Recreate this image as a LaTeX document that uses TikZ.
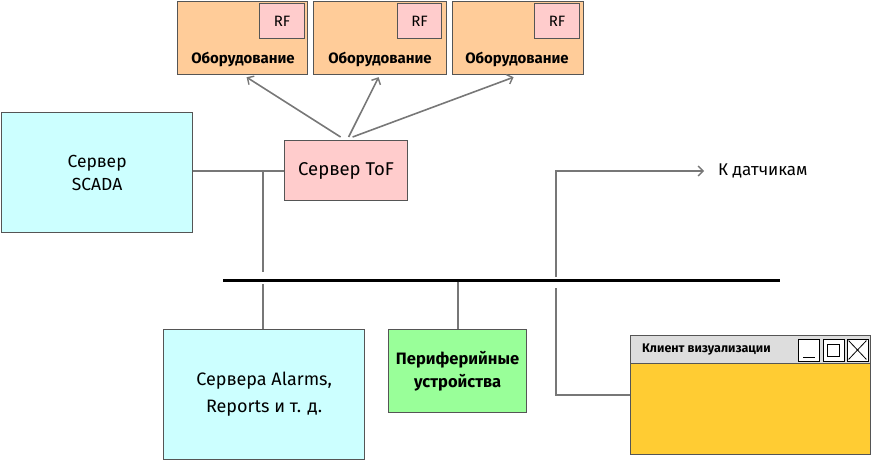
\documentclass[tikz,border=0pt]{standalone}
\usepackage{fontspec}
\setmainfont{Fira Sans}
\usetikzlibrary{arrows.meta,calc}
\definecolor{eqfill}{HTML}{FFCC99}
\definecolor{rffill}{HTML}{FFCCCC}
\definecolor{cyfill}{HTML}{CCFFFF}
\definecolor{grfill}{HTML}{99FF99}
\definecolor{yefill}{HTML}{FFCC33}
\definecolor{tbfill}{HTML}{DDDDDD}
\definecolor{edge}{HTML}{555555}
\definecolor{connc}{HTML}{777777}
\begin{document}
\begin{tikzpicture}[x=1pt,y=-1pt,
  box/.style={draw=edge, line width=1.2pt, align=center, inner sep=0pt, anchor=north west},
  conn/.style={draw=connc, line width=1.6pt},
  tip/.style={-{Straight Barb[length=5pt,width=10pt,line width=1.4pt]}},
  lbl/.style={font=\fontsize{17.5}{23}\selectfont, align=center, inner sep=0pt},
  eqlbl/.style={font=\bfseries\fontsize{15}{17}\selectfont, inner sep=0pt},
  rflbl/.style={font=\fontsize{15}{17}\selectfont},
  btn/.style={draw=black, fill=white, line width=0.8pt, minimum width=21, minimum height=22, inner sep=0pt},
  glyph/.style={draw=black, line width=0.8pt}
]
\useasboundingbox (0,0) rectangle (871,461);

% equipment boxes
\node[box, fill=eqfill, minimum width=130, minimum height=73] (eq1) at (177,1) {};
\node[box, fill=eqfill, minimum width=133, minimum height=73] (eq2) at (313,1) {};
\node[box, fill=eqfill, minimum width=131, minimum height=73] (eq3) at (452,1) {};
\node[box, fill=rffill, minimum width=45, minimum height=35, rflbl] (rf1) at (259,3) {RF};
\node[box, fill=rffill, minimum width=44, minimum height=35, rflbl] (rf2) at (397,3) {RF};
\node[box, fill=rffill, minimum width=45, minimum height=35, rflbl] (rf3) at (534,3) {RF};
\node[eqlbl] (eqt1) at (243,59) {Оборудование};
\node[eqlbl] (eqt2) at (380,59) {Оборудование};
\node[eqlbl] (eqt3) at (517,59) {Оборудование};

% main boxes
\node[box, fill=rffill, minimum width=123, minimum height=60, lbl, font=\fontsize{18.5}{23}\selectfont] (tof) at (284,140) {Сервер ToF};
\node[box, fill=cyfill, minimum width=191, minimum height=120, lbl] (scada) at (1,112) {Сервер\\SCADA};
\node[box, fill=cyfill, minimum width=201, minimum height=130, lbl, font=\fontsize{18}{27}\selectfont] (alarms) at (163,329) {Сервера Alarms,\\Reports и т. д.};
\node[box, fill=grfill, minimum width=138, minimum height=83, font=\bfseries\fontsize{16.5}{23}\selectfont] (per) at (388,329) {Периферийные\\устройства};

% bus
\node[fill=black, inner sep=0pt, minimum width=557, minimum height=3, anchor=west] (bus) at (223,280) {};

% client window
\node[box, fill=yefill, minimum width=240, minimum height=119] (client) at (630,335) {};
\node[box, fill=tbfill, minimum width=240, minimum height=28] (ctitle) at (630,335) {};
\node[anchor=west, inner sep=0pt, font=\bfseries\fontsize{12.5}{14}\selectfont] (ctext) at (642,350) {Клиент визуализации};
\node[btn] (b1) at (809,350) {};
\node[btn] (b2) at (833.5,350) {};
\node[btn] (b3) at (857.5,350) {};
\draw[glyph] ($(b1.south west)+(5,-4)$) -- ($(b1.south east)+(-5,-4)$);
\draw[glyph] ($(b2.center)+(-6,-6)$) rectangle ($(b2.center)+(6,6)$);
\draw[glyph] ($(b3.north west)+(2,2)$) -- ($(b3.south east)+(-2,-2)$);
\draw[glyph] ($(b3.north east)+(-2,2)$) -- ($(b3.south west)+(2,-2)$);

% label to sensors
\node[anchor=west, inner xsep=14pt, inner ysep=0pt, font=\fontsize{17}{20}\selectfont] (dat) at (704,171) {К датчикам};

% connectors
\coordinate (j1) at (263,171);
\coordinate (j1b) at (263,272);
\coordinate (j1c) at (263,284);
\coordinate (k1) at (556,277);
\coordinate (k2) at (556,288);
\coordinate (p1) at ($(per.north)+(0.5,0)$);
\draw[conn] (j1 -| scada.east) -- (j1 -| tof.west);
\draw[conn] (j1) -- (j1b);
\draw[conn] (j1c) -- (j1c |- alarms.north);
\draw[conn] (bus.south -| p1) -- (p1);
\draw[conn, tip] (k1) |- (dat.west);
\draw[conn] (k2) |- (client.west);

\draw[conn, tip] ($(tof.north)+(-5.5,-3)$) -- ($(eq1.south)+(4,2)$);
\draw[conn, tip] ($(tof.north)+(2.5,-3)$) -- ($(eq2.south)+(-1.5,2)$);
\draw[conn, tip] ($(tof.north)+(6.5,-3)$) -- ($(eq3.south)+(-4.5,2)$);
\end{tikzpicture}
\end{document}
